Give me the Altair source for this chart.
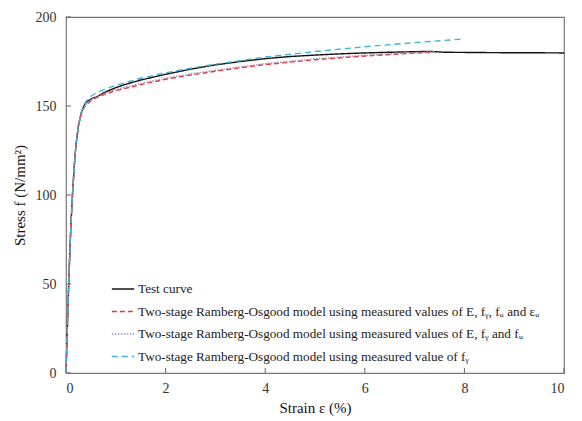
import altair as alt
import pandas as pd

# ---------------- data ----------------
test_strain = [0, 0.03, 0.06, 0.1, 0.13, 0.17, 0.2, 0.25, 0.3, 0.35, 0.4, 0.45, 0.5, 0.55, 0.6,
               0.7, 0.8, 1.0, 1.2, 1.5, 2.0, 2.5, 3.0, 3.5, 4.0, 4.5, 5.0, 5.5, 6.0, 6.5, 7.0,
               7.3, 7.6, 8.0, 8.5, 9.0, 9.5, 10.0]
test_stress = [0, 28, 55, 84, 100, 118, 128, 139, 145.5, 149.5, 152, 153, 153.8, 154.5, 154.8,
               156.5, 158, 160.3, 162.2, 164.6, 167.8, 170.7, 173.1, 175.0, 176.6, 177.8, 178.6,
               179.3, 179.8, 180.2, 180.5, 180.7, 180.2, 180.1, 180.0, 179.9, 179.9, 179.8]

ro1_strain = [0, 0.03, 0.06, 0.1, 0.13, 0.17, 0.2, 0.25, 0.3, 0.35, 0.4, 0.5, 0.6, 0.8, 1.0,
              1.5, 2.0, 2.5, 3.0, 3.5, 4.0, 5.0, 6.0, 7.0, 7.4]
ro1_stress = [0, 28, 55, 84, 100, 118, 128, 139, 145, 148.5, 150.5, 153, 154.6, 156.8, 158.6,
              162.0, 165.0, 167.4, 169.5, 171.5, 173.3, 176.0, 178.1, 179.7, 180.3]

ro2_strain = [0, 0.03, 0.06, 0.1, 0.13, 0.17, 0.2, 0.25, 0.3, 0.35, 0.4, 0.5, 0.6, 0.8, 1.0,
              1.5, 2.0, 2.5, 3.0, 3.5, 4.0, 5.0, 6.0, 7.0, 7.4]
ro2_stress = [0, 28, 55, 84, 100, 118, 128, 139, 145, 149, 151, 153.5, 155.2, 157.4, 159.2,
              162.7, 165.6, 168.0, 170.1, 172.0, 173.8, 176.5, 178.5, 180.0, 180.5]

ro3_strain = [0, 0.03, 0.06, 0.1, 0.13, 0.17, 0.2, 0.25, 0.3, 0.35, 0.4, 0.5, 0.6, 0.8, 1.0,
              1.5, 2.0, 2.5, 3.0, 4.0, 5.0, 6.0, 7.0, 8.0]
ro3_stress = [0, 28, 55, 84, 100, 118, 128, 139, 146, 150, 152.5, 155.5, 157.3, 159.6, 161.6,
              165.6, 168.6, 171.2, 173.5, 177.5, 180.6, 183.3, 185.6, 187.7]

series_names = [
    "Test curve",
    "Two-stage Ramberg-Osgood model using measured values of E, f\u1d67, f\u1d64 and \u03b5\u1d64",
    "Two-stage Ramberg-Osgood model using measured values of E, f\u1d67 and f\u1d64",
    "Two-stage Ramberg-Osgood model using measured value of f\u1d67",
]
series_colors = ["#111111", "#e8323c", "#9c8fb4", "#3fb4d6"]
series_dashes = [[1, 0], [5, 3], [1.5, 1.5], [6, 4]]

x_ticks = [0, 2, 4, 6, 8, 10]
y_ticks = [0, 50, 100, 150, 200]

# ---------------- table ----------------
rows = []
for name, xs, ys in zip(series_names,
                        [test_strain, ro1_strain, ro2_strain, ro3_strain],
                        [test_stress, ro1_stress, ro2_stress, ro3_stress]):
    for i, (a, b) in enumerate(zip(xs, ys)):
        rows.append({"series": name, "strain": a, "stress": b, "order": i})
df = pd.DataFrame(rows)

FONT = "Liberation Serif"
W, H = 498, 356

xscale = alt.Scale(domain=[0, 10], nice=False)
yscale = alt.Scale(domain=[0, 200], nice=False)

lines = alt.Chart(df).mark_line(strokeWidth=1.4).encode(
    x=alt.X("strain:Q", scale=xscale,
            axis=alt.Axis(values=x_ticks, title="Strain \u03b5 (%)", grid=False,
                          ticks=False, domain=False, labelPadding=8, titlePadding=5)),
    y=alt.Y("stress:Q", scale=yscale,
            axis=alt.Axis(values=y_ticks, title="Stress f (N/mm\u00b2)", grid=False,
                          ticks=False, domain=False, labelPadding=10, titlePadding=8)),
    color=alt.Color("series:N",
                    scale=alt.Scale(domain=series_names, range=series_colors),
                    legend=alt.Legend(title=None, orient="none", legendX=45, legendY=260,
                                      symbolType="stroke", symbolSize=500,
                                      symbolStrokeWidth=1.6, labelFont=FONT,
                                      labelFontSize=13.2, labelColor="#222",
                                      labelLimit=600, rowPadding=3.5, labelOffset=3)),
    strokeDash=alt.StrokeDash("series:N",
                              scale=alt.Scale(domain=series_names, range=series_dashes),
                              legend=None),
    order="order:Q",
)

xt = pd.DataFrame({"v": x_ticks})
yt = pd.DataFrame({"v": y_ticks})
xtick_marks = alt.Chart(xt).mark_rule(color="#666", strokeWidth=1).encode(
    x=alt.X("v:Q", scale=xscale), y=alt.value(H), y2=alt.value(H - 5))
ytick_marks = alt.Chart(yt).mark_rule(color="#666", strokeWidth=1).encode(
    y=alt.Y("v:Q", scale=yscale), x=alt.value(0), x2=alt.value(5))

chart = alt.layer(xtick_marks, ytick_marks, lines).properties(
    width=W, height=H,
    background="white",
    autosize=alt.AutoSizeParams(type="none"),
    padding={"left": 66, "top": 17, "right": 18, "bottom": 48},
).configure_view(
    stroke="#777", strokeWidth=1.2
).configure_axis(
    labelFont=FONT, labelFontSize=14, labelColor="#333",
    titleFont=FONT, titleFontSize=15, titleColor="#111", titleFontWeight="normal",
)

chart.save("out.html", embed_options={"renderer": "svg", "actions": False})
